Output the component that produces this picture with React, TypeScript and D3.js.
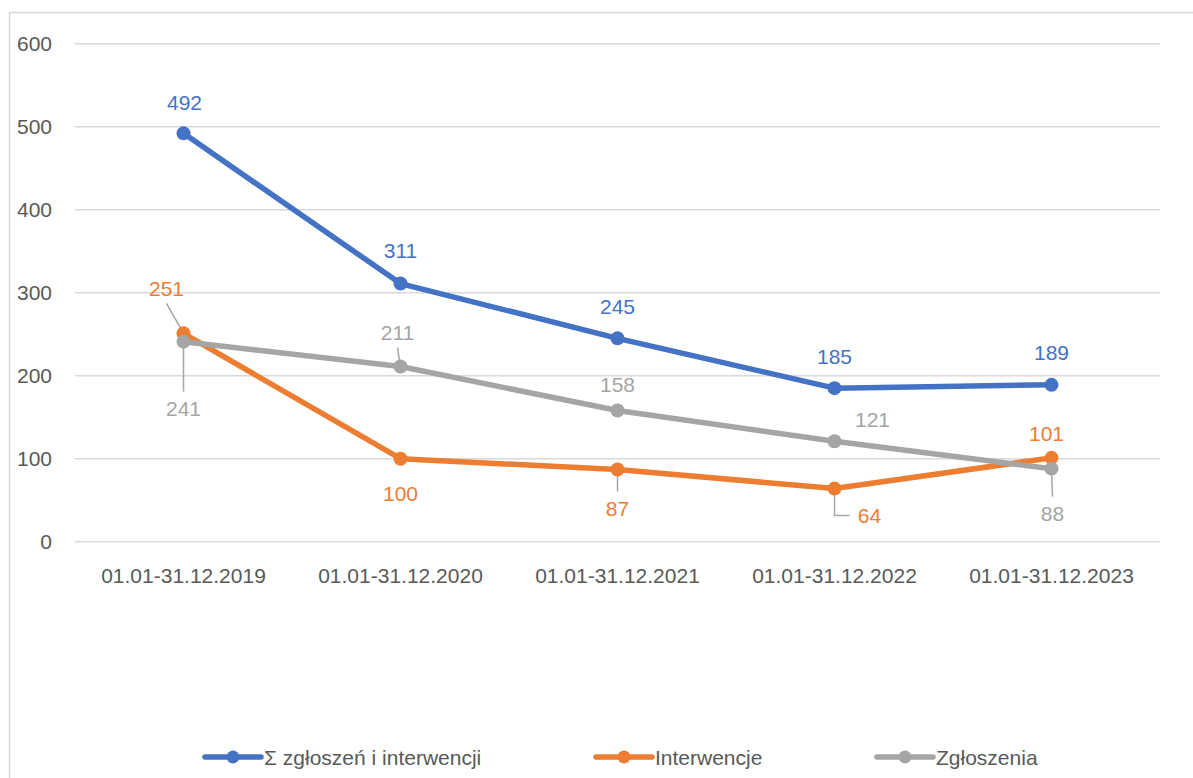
import React from "react";
import * as d3 from "d3";

const WIDTH = 1193;
const HEIGHT = 778;
const FONT = "'Liberation Sans', Arial, sans-serif";
const TEXT_GREY = "#595959";
const GRID = "#D9D9D9";
const LEADER = "#A6A6A6";

const categories = [
  "01.01-31.12.2019",
  "01.01-31.12.2020",
  "01.01-31.12.2021",
  "01.01-31.12.2022",
  "01.01-31.12.2023",
];
const yTicks = [0, 100, 200, 300, 400, 500, 600];

const sumValues = [492, 311, 245, 185, 189];
const interwencjeValues = [251, 100, 87, 64, 101];
const zgloszeniaValues = [241, 211, 158, 121, 88];

const seriesNames = ["Σ zgłoszeń i interwencji", "Interwencje", "Zgłoszenia"];
const seriesColors = ["#4472C4", "#ED7D31", "#A5A5A5"];

// where each data label sits relative to its point, and how it is tied back
type Place = { dx: number; dy: number; leader?: "straight" | "elbow" };
const labelPlacement: Place[][] = [
  [
    { dx: 1, dy: -31 },
    { dx: 0, dy: -33 },
    { dx: 0, dy: -32 },
    { dx: 0, dy: -32 },
    { dx: 0, dy: -32 },
  ],
  [
    { dx: -17, dy: -45, leader: "straight" },
    { dx: 0, dy: 35 },
    { dx: 0, dy: 39, leader: "straight" },
    { dx: 35, dy: 27, leader: "elbow" },
    { dx: -5, dy: -24 },
  ],
  [
    { dx: 0, dy: 67, leader: "straight" },
    { dx: -3, dy: -34, leader: "straight" },
    { dx: 0, dy: -26 },
    { dx: 38, dy: -22 },
    { dx: 1, dy: 45, leader: "straight" },
  ],
];

const legendX = [205, 596, 877];

export default function App() {
  const series = [sumValues, interwencjeValues, zgloszeniaValues];

  const x = d3.scaleBand<string>().domain(categories).range([75, 1160]);
  const y = d3.scaleLinear().domain([0, 600]).range([541.7, 43.7]);
  const cx = (c: string) => (x(c) ?? 0) + x.bandwidth() / 2;

  const line = d3
    .line<number>()
    .x((_, i) => cx(categories[i]))
    .y((d) => y(d));

  const leaders: JSX.Element[] = [];
  const labels: JSX.Element[] = [];
  series.forEach((vals, s) => {
    vals.forEach((v, i) => {
      const px = cx(categories[i]);
      const py = y(v);
      const p = labelPlacement[s][i];
      const lx = px + p.dx;
      const ly = py + p.dy;
      if (p.leader === "straight") {
        const ey = p.dy < 0 ? ly + 15 : ly - 17;
        leaders.push(
          <line key={`l${s}-${i}`} x1={px} y1={py} x2={lx} y2={ey} stroke={LEADER} strokeWidth={1.5} />
        );
      } else if (p.leader === "elbow") {
        leaders.push(
          <polyline
            key={`l${s}-${i}`}
            points={`${px},${py} ${px},${ly} ${lx - 20},${ly}`}
            fill="none"
            stroke={LEADER}
            strokeWidth={1.5}
          />
        );
      }
      labels.push(
        <text
          key={`t${s}-${i}`}
          x={lx}
          y={ly}
          textAnchor="middle"
          dominantBaseline="central"
          fill={seriesColors[s]}
          fontSize={21}
        >
          {v}
        </text>
      );
    });
  });

  return (
    <svg
      width={WIDTH}
      height={HEIGHT}
      style={{ position: "absolute", left: 0, top: 0, background: "#fff" }}
      fontFamily={FONT}
    >
      <rect x={9.5} y={12.5} width={WIDTH} height={HEIGHT} fill="#fff" stroke={GRID} strokeWidth={1.5} />

      {yTicks.map((t) => (
        <g key={t}>
          <line x1={75} x2={1160} y1={y(t)} y2={y(t)} stroke={GRID} strokeWidth={1.5} />
          <text x={52} y={y(t)} textAnchor="end" dominantBaseline="central" fill={TEXT_GREY} fontSize={21}>
            {t}
          </text>
        </g>
      ))}

      {categories.map((c) => (
        <text key={c} x={cx(c)} y={575} textAnchor="middle" dominantBaseline="central" fill={TEXT_GREY} fontSize={21}>
          {c}
        </text>
      ))}

      {leaders}

      {series.map((vals, s) => (
        <g key={s}>
          <path d={line(vals) ?? ""} fill="none" stroke={seriesColors[s]} strokeWidth={5.5} strokeLinejoin="round" strokeLinecap="round" />
          {vals.map((v, i) => (
            <circle key={i} cx={cx(categories[i])} cy={y(v)} r={7} fill={seriesColors[s]} />
          ))}
        </g>
      ))}

      {labels}

      {seriesNames.map((name, s) => (
        <g key={name} transform={`translate(${legendX[s]},757)`}>
          <line x1={0} x2={56} y1={0} y2={0} stroke={seriesColors[s]} strokeWidth={5.5} strokeLinecap="round" />
          <circle cx={28} cy={0} r={6.5} fill={seriesColors[s]} />
          <text x={59} y={0} dominantBaseline="central" fill={TEXT_GREY} fontSize={21}>
            {name}
          </text>
        </g>
      ))}
    </svg>
  );
}
